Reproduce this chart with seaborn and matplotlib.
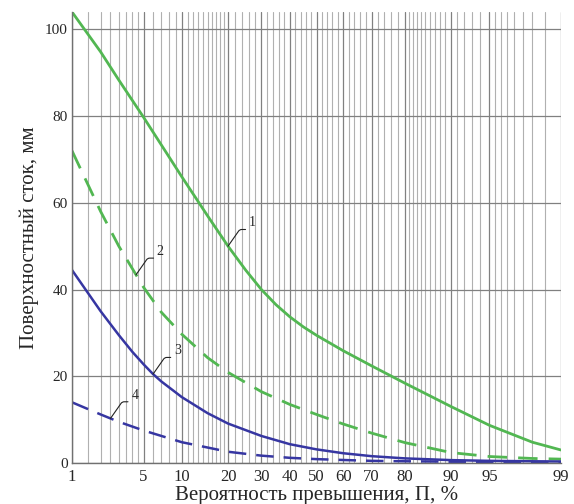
import math
import numpy as np
import pandas as pd
import matplotlib
matplotlib.use("Agg")
import matplotlib.pyplot as plt
import seaborn as sns

# ---- data ----
prob1 = [1, 2, 3, 5, 10, 15, 20, 25, 30, 35, 40, 45, 50, 60, 70, 80, 90, 95, 98, 99]
curve1 = [104, 94.8, 88.3, 79.7, 66, 57, 50, 44.5, 40, 36.5, 33.7, 31.4, 29.45, 25.9, 22.4, 18.4, 13, 8.7, 4.8, 3]
prob2 = [1, 2, 3, 5, 7, 10, 15, 20, 30, 40, 50, 60, 70, 80, 90, 95, 98, 99]
curve2 = [72, 58, 50, 40.5, 34.75, 29.7, 24.3, 20.9, 16.45, 13.5, 11.2, 9.0, 6.9, 4.7, 2.4, 1.5, 1.05, 0.9]
prob3 = [1, 2, 3, 4, 5, 6, 7, 10, 15, 20, 30, 40, 50, 60, 70, 80, 90, 95, 98, 99]
curve3 = [44.5, 35, 29.5, 25.6, 22.75, 20.5, 18.8, 15.2, 11.5, 9.1, 6.24, 4.34, 3.15, 2.26, 1.58, 1.07, 0.67, 0.5, 0.4, 0.35]
prob4 = [1, 2, 3, 5, 10, 20, 30, 40, 50, 60, 70, 80, 90, 95, 98, 99]
curve4 = [14, 11.2, 9.5, 7.5, 4.8, 2.6, 1.7, 1.2, 0.9, 0.7, 0.5, 0.4, 0.3, 0.25, 0.2, 0.2]
xticks = [1, 5, 10, 20, 30, 40, 50, 60, 70, 80, 90, 95, 99]
yticks = [0, 20, 40, 60, 80, 100]
minor_grid = ([1 + 0.5 * i for i in range(9)] + list(range(6, 20)) +
              list(range(22, 80, 2)) + list(range(81, 95)) +
              [95.5, 96, 96.5, 97, 97.5, 98, 98.5])
labels = ["1", "2", "3", "4"]
label_at = [20, 4.3, 6, 2.5]

# ---- normal probability scale ----
def _ppf(q):
    q = np.clip(np.asarray(q, dtype=float), 1e-9, 1 - 1e-9)
    a = [-3.969683028665376e+01, 2.209460984245205e+02, -2.759285104469687e+02,
         1.383577518672690e+02, -3.066479806614716e+01, 2.506628277459239e+00]
    b = [-5.447609879822406e+01, 1.615858368580409e+02, -1.556989798598866e+02,
         6.680131188771972e+01, -1.328068155288572e+01]
    c = [-7.784894002430293e-03, -3.223964580411365e-01, -2.400758277161838e+00,
         -2.549732539343734e+00, 4.374664141464968e+00, 2.938163982698783e+00]
    d = [7.784695709041462e-03, 3.224671290700398e-01, 2.445134137142996e+00,
         3.754408661907416e+00]
    plow = 0.02425
    out = np.empty_like(q)
    lo = q < plow
    hi = q > 1 - plow
    mid = ~(lo | hi)
    r = np.sqrt(-2 * np.log(q[lo]))
    out[lo] = (((((c[0]*r+c[1])*r+c[2])*r+c[3])*r+c[4])*r+c[5]) / ((((d[0]*r+d[1])*r+d[2])*r+d[3])*r+1)
    r = np.sqrt(-2 * np.log(1 - q[hi]))
    out[hi] = -(((((c[0]*r+c[1])*r+c[2])*r+c[3])*r+c[4])*r+c[5]) / ((((d[0]*r+d[1])*r+d[2])*r+d[3])*r+1)
    qq = q[mid] - 0.5
    r = qq * qq
    out[mid] = (((((a[0]*r+a[1])*r+a[2])*r+a[3])*r+a[4])*r+a[5])*qq / (((((b[0]*r+b[1])*r+b[2])*r+b[3])*r+b[4])*r+1)
    return out

_erf = np.frompyfunc(math.erf, 1, 1)

def forward(p):
    return _ppf(np.asarray(p, dtype=float) / 100.0)

def inverse(z):
    z = np.asarray(z, dtype=float)
    return 100.0 * 0.5 * (1 + _erf(z / math.sqrt(2)).astype(float))

# ---- figure ----
sns.set_style("white")
plt.rcParams["font.family"] = ["Liberation Serif", "DejaVu Serif"]

fig = plt.figure(figsize=(5.74, 5.04), dpi=100)
ax = fig.add_axes([0.1254, 0.0813, 0.852, 0.895])
ax.set_xscale("function", functions=(forward, inverse))

green = "#52b752"
blue = "#3636a2"
series = [(prob1, curve1, green, 2.0, None),
          (prob2, curve2, green, 2.0, (7, 4)),
          (prob3, curve3, blue, 1.8, None),
          (prob4, curve4, blue, 1.8, (7, 4))]
for px, cy, col, lw, dash in series:
    df = pd.DataFrame({"p": px, "v": cy})
    sns.lineplot(data=df, x="p", y="v", ax=ax, color=col, lw=lw)
    if dash is not None:
        ax.lines[-1].set_dashes(dash)

ax.set_xlim(1, 99)
ax.set_ylim(0, 104)
ax.set_xticks(xticks)
ax.set_xticklabels([str(t) for t in xticks])
ax.set_xticks(minor_grid, minor=True)
ax.set_yticks(yticks)
ax.set_yticklabels([str(t) for t in yticks])
ax.tick_params(axis="both", which="both", length=0)
ax.tick_params(axis="x", labelsize=12, pad=4)
ax.tick_params(axis="y", labelsize=11, pad=3)
ax.grid(which="minor", axis="x", color="#b0b0b0", lw=0.8)
ax.grid(which="major", axis="x", color="#808080", lw=0.9)
ax.grid(which="major", axis="y", color="#808080", lw=0.9)
ax.set_axisbelow(True)
for s in ["top", "right"]:
    ax.spines[s].set_visible(False)
for s in ["left", "bottom"]:
    ax.spines[s].set_color("#707070")
    ax.spines[s].set_linewidth(1.0)

ax.set_xlabel("Вероятность превышения, П, %", fontsize=15, labelpad=1)
ax.set_ylabel("Поверхностный сток, мм", fontsize=15, labelpad=4)

for lab, pa, (px, cy, _, _, _) in zip(labels, label_at, series):
    yv = float(np.interp(forward(pa), forward(px), cy))
    ax.annotate(lab, xy=(pa, yv), xytext=(20, 12), textcoords="offset points",
                fontsize=10, ha="right", va="bottom",
                arrowprops=dict(arrowstyle="-", color="#222222", lw=0.8,
                                relpos=(1.0, 0.0), shrinkA=0, shrinkB=0,
                                connectionstyle="angle,angleA=0,angleB=55,rad=2"))

fig.savefig("out.png", dpi=100)
